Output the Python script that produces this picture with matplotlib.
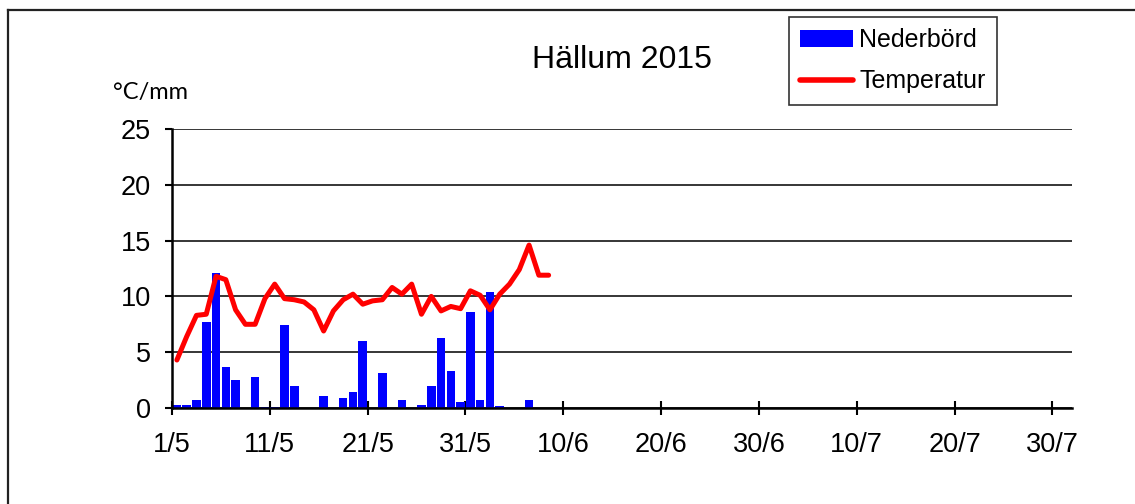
import matplotlib
matplotlib.use("Agg")
import matplotlib.pyplot as plt
from matplotlib.lines import Line2D
import numpy as np

plt.rcParams['font.family'] = ['Liberation Sans', 'DejaVu Sans']

# ---- data ----
title = "Hällum 2015"
ylabel = "°C/mm"
tick_days = [0, 10, 20, 30, 40, 50, 60, 70, 80, 90]
tick_labels = ["1/5", "11/5", "21/5", "31/5", "10/6", "20/6", "30/6", "10/7", "20/7", "30/7"]
n_days = 92  # 1 May - 31 July

precip = [0.3, 0.3, 0.7, 7.7, 12.1, 3.7, 2.5, 0.0, 2.8, 0.1,
          0.1, 7.4, 2.0, 0.0, 0.0, 1.1, 0.0, 0.9, 1.4, 6.0,
          0.0, 3.1, 0.0, 0.7, 0.0, 0.3, 2.0, 6.3, 3.3, 0.5,
          8.6, 0.7, 10.4, 0.15, 0.0, 0.0, 0.7]
temp = [4.3, 6.4, 8.3, 8.4, 11.8, 11.5, 8.8, 7.5, 7.5, 9.8,
        11.1, 9.8, 9.7, 9.5, 8.8, 6.9, 8.7, 9.7, 10.2, 9.3,
        9.6, 9.7, 10.8, 10.2, 11.1, 8.4, 10.0, 8.7, 9.1, 8.9,
        10.5, 10.1, 8.8, 10.2, 11.1, 12.4, 14.6, 11.9, 11.9]
yticks = [0, 5, 10, 15, 20, 25]

W, H = 1135, 504
fig = plt.figure(figsize=(W / 100, H / 100), dpi=100)
ax = fig.add_axes([172 / W, 1 - 408 / H, (1072 - 172) / W, (408 - 129) / H])

xp = np.arange(len(precip)) + 0.5
xt = np.arange(len(temp)) + 0.5
bars = ax.bar(xp, precip, width=0.88, color='#0000FF', zorder=3, label='Nederbörd')
line, = ax.plot(xt, temp, color='#FF0000', lw=3.6, zorder=4, label='Temperatur',
                solid_joinstyle='round', solid_capstyle='round')

ax.set_xlim(0, n_days)
ax.set_ylim(0, 25)
ax.set_yticks(yticks)
ax.set_xticks(tick_days)
ax.set_xticklabels(tick_labels)
ax.grid(axis='y', color='black', lw=1.1, zorder=1)
ax.set_axisbelow(True)
for s in ['top', 'right']:
    ax.spines[s].set_visible(False)
for s in ['left', 'bottom']:
    ax.spines[s].set_linewidth(1.8)
    ax.spines[s].set_zorder(5)
ax.tick_params(axis='y', direction='out', length=5, width=1.5, labelsize=19.5, pad=10)
ax.tick_params(axis='x', direction='inout', length=10, width=1.5, labelsize=19.5, pad=12)

fig.text(622 / W, 1 - 60 / H, title, ha='center', va='center', fontsize=23)
fig.text(150 / W, 1 - 93 / H, ylabel, ha='center', va='center', fontsize=17,
         family=['Lato', 'DejaVu Sans'])

leg = fig.legend(handles=[bars, line], labels=['Nederbörd', 'Temperatur'],
                 loc='upper left', bbox_to_anchor=(789 / W, 1 - 17 / H),
                 fontsize=18, frameon=True, fancybox=False, edgecolor='black',
                 handlelength=2.1, handleheight=0.65, handletextpad=0.25,
                 labelspacing=0.68, borderpad=0.45, borderaxespad=0)
leg.get_frame().set_linewidth(1.2)
for h in leg.legend_handles:
    if isinstance(h, Line2D):
        h.set_linewidth(4)

# outer chart frame (top and left edges visible)
fig.add_artist(Line2D([8 / W, 8 / W], [0, 1 - 10 / H], transform=fig.transFigure,
                      color='#222222', lw=1.6))
fig.add_artist(Line2D([8 / W, 1], [1 - 10 / H, 1 - 10 / H], transform=fig.transFigure,
                      color='#222222', lw=1.6))

fig.savefig('out.png', dpi=100)
